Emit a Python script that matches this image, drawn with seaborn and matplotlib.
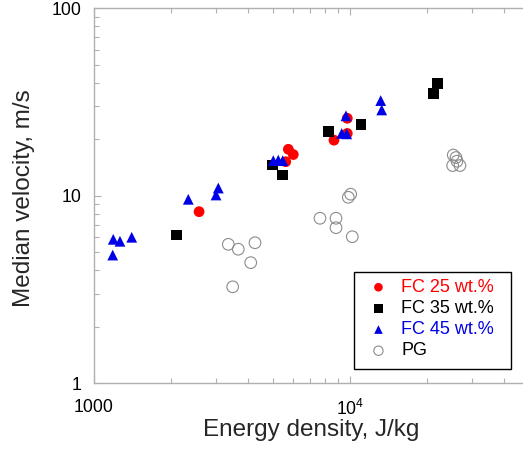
import seaborn as sns
import pandas as pd
import numpy as np
import matplotlib.pyplot as plt
from matplotlib.patches import Rectangle

# Datos (densidad de energía J/kg, velocidad mediana m/s)
fc25_e = [2580, 5615, 5750, 6010, 8660, 9760, 9760]
fc25_v = [8.23, 15.2, 17.7, 16.6, 19.8, 25.9, 21.5]

fc35_e = [2110, 4995, 5470, 8230, 11040, 21130, 21900]
fc35_v = [6.18, 14.6, 12.9, 22.0, 24.1, 35.2, 39.8]

fc45_e = [1188, 1194, 1268, 1409, 2342, 3004, 3066, 5023, 5253, 5466,
          9283, 9707, 9647, 13175, 13293]
fc45_v = [4.83, 5.86, 5.72, 6.01, 9.58, 10.1, 11.0, 15.4, 15.5, 15.4,
          21.5, 21.4, 26.7, 32.2, 28.7]

pg_e = [3354, 3668, 4262, 4102, 3488, 7638, 8820, 8820, 9849, 10063,
        10209, 25270, 25900, 25140, 26840, 26140]
pg_v = [5.51, 5.19, 5.62, 4.40, 3.27, 7.59, 7.59, 6.76, 9.82, 10.2,
        6.05, 16.5, 16.0, 14.5, 14.5, 15.3]

x_ticks = [1000, 10000]
x_ticklabels = ['1000', '$10^4$']
y_ticks = [1, 10, 100]
y_ticklabels = ['1', '10', '100']

sns.set_style('white')
plt.rcParams['font.family'] = ['Liberation Sans', 'DejaVu Sans']
plt.rcParams['mathtext.fontset'] = 'custom'
plt.rcParams['mathtext.rm'] = 'Liberation Sans'
plt.rcParams['mathtext.it'] = 'Liberation Sans'

fig = plt.figure(figsize=(5.23, 4.51), dpi=100)
# el eje sigue más allá del borde derecho de la figura
ax = fig.add_axes([0.1788, 0.1501, 0.8537, 0.8315])

red = '#ff0000'
blue = '#0000e6'

sns.scatterplot(x=fc25_e, y=fc25_v, marker='o', s=60, color=red,
                edgecolor='none', label='FC 25 wt.%', ax=ax, zorder=3)
sns.scatterplot(x=fc35_e, y=fc35_v, marker='s', s=60, color='black',
                edgecolor='none', label='FC 35 wt.%', ax=ax, zorder=3)
sns.scatterplot(x=fc45_e, y=fc45_v, marker='^', s=60, color=blue,
                edgecolor='none', label='FC 45 wt.%', ax=ax, zorder=4)
sns.scatterplot(x=pg_e, y=pg_v, marker='o', s=70, facecolor='none',
                edgecolor='#8c8c8c', linewidth=0.8, label='PG', ax=ax, zorder=2)

ax.set_xscale('log')
ax.set_yscale('log')
ax.set_xlim(1000, 55060)
ax.set_ylim(1, 100)

ax.set_xticks(x_ticks)
ax.set_xticklabels(x_ticklabels)
ax.set_yticks(y_ticks)
ax.set_yticklabels(y_ticklabels)

grey = '#b0b0b0'
for side in ['left', 'top', 'bottom']:
    ax.spines[side].set_color(grey)
    ax.spines[side].set_linewidth(1)
ax.spines['right'].set_visible(False)

ax.tick_params(axis='both', which='both', direction='in', color=grey,
               labelsize=12.7, labelcolor='black')
ax.tick_params(axis='x', which='both', top=True, bottom=True, pad=11)
ax.tick_params(axis='y', which='both', left=True, right=False, pad=9)
ax.tick_params(which='major', length=5, width=0.8)
ax.tick_params(which='minor', length=3.5, width=0.8)

ax.set_xlabel('Energy density, J/kg', fontsize=17.5)
ax.set_ylabel('Median velocity, m/s', fontsize=17.5)
ax.xaxis.set_label_coords(0.5 * 0.8327 / 0.8537, -0.094)
ax.yaxis.set_label_coords(-0.134 * 0.8327 / 0.8537, 0.495)

# caja de la leyenda dibujada aparte (en píxeles de figura)
box = Rectangle((354 / 523, (451 - 369) / 451), 156.7 / 523, 96.7 / 451,
                transform=fig.transFigure, facecolor='white',
                edgecolor='black', linewidth=1, zorder=5, clip_on=False)
ax.add_patch(box)

leg = ax.legend(loc='upper left', bbox_to_anchor=(364 / 523, (451 - 279) / 451),
                bbox_transform=fig.transFigure, fontsize=13, frameon=False,
                markerscale=0.8, handletextpad=0.45, labelspacing=0.23,
                borderpad=0.0, borderaxespad=0.0, handlelength=1.6,
                labelcolor=[red, 'black', blue, 'black'])
leg.set_zorder(6)

fig.savefig('out.png', dpi=100)
